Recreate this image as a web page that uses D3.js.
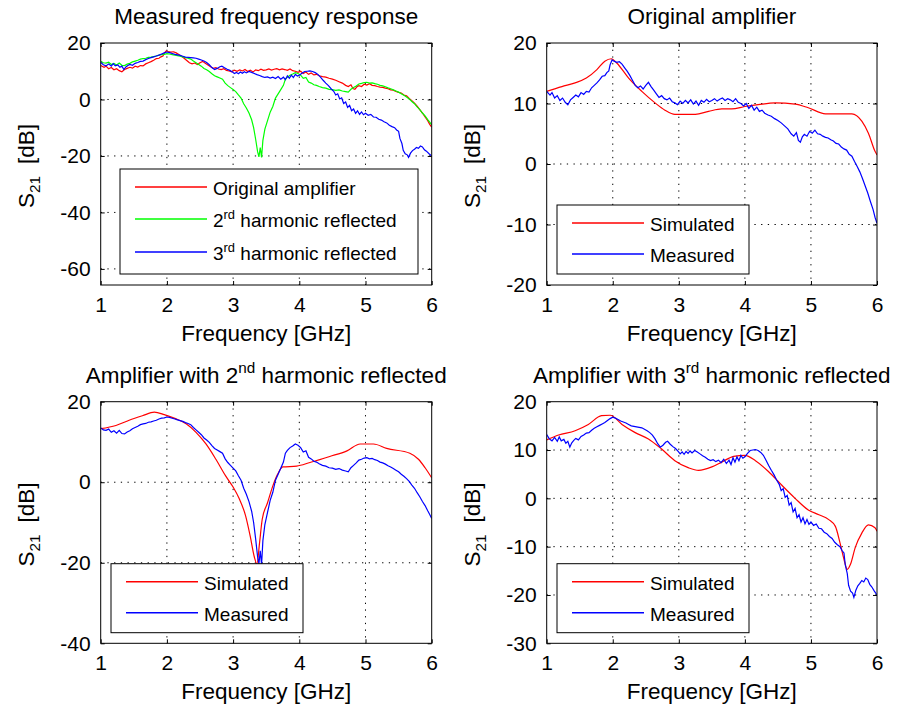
<!DOCTYPE html>
<html>
<head>
<meta charset="utf-8">
<script src="https://cdn.jsdelivr.net/npm/d3@7/dist/d3.min.js"></script>
<style>
  body { margin: 0; background: #fff; }
  svg { font-family: 'Liberation Sans', Arial, sans-serif; }
</style>
</head>
<body>
<div id="chart"></div>
<script>
const WIDTH = 899
const HEIGHT = 712

// x axis (GHz) shared by all four panels
const freqTicks = [1, 2, 3, 4, 5, 6]

// y ticks per panel
const ticksMeasured = [20, 0, -20, -40, -60]
const ticksOriginal = [20, 10, 0, -10, -20]
const ticksSecond = [20, 0, -20, -40]
const ticksThird = [20, 10, 0, -10, -20, -30]

// measured S21 [GHz, dB]
const measOriginal = [
  [1.00, 12.0], [1.05, 11.4], [1.08, 11.8], [1.12, 10.9], [1.16, 11.3], [1.20, 10.5], [1.24, 10.9],
  [1.28, 10.2], [1.32, 9.8], [1.36, 10.6], [1.40, 11.0], [1.44, 11.4], [1.48, 11.1], [1.52, 11.8],
  [1.56, 11.5], [1.60, 12.0], [1.64, 11.9], [1.68, 12.6], [1.72, 13.0], [1.76, 13.4], [1.80, 13.9],
  [1.84, 14.5], [1.88, 14.6], [1.91, 15.1], [1.94, 15.4], [1.96, 16.4], [1.99, 17.2], [2.02, 17.0],
  [2.06, 16.8], [2.10, 16.9], [2.14, 16.5], [2.18, 15.9], [2.22, 15.3], [2.26, 14.6], [2.30, 13.8],
  [2.34, 13.0], [2.38, 12.6], [2.42, 12.9], [2.46, 12.4], [2.50, 13.0], [2.54, 13.5], [2.58, 12.8],
  [2.62, 12.2], [2.66, 11.6], [2.70, 11.0], [2.74, 11.3], [2.78, 10.8], [2.82, 10.6], [2.86, 10.9],
  [2.90, 10.3], [2.94, 10.1], [2.98, 9.8], [3.02, 10.4], [3.06, 10.0], [3.10, 10.5], [3.14, 10.1],
  [3.18, 10.6], [3.22, 9.9], [3.26, 10.4], [3.30, 9.7], [3.34, 10.5], [3.38, 10.2], [3.42, 10.7],
  [3.46, 10.3], [3.50, 10.5], [3.54, 10.8], [3.58, 10.4], [3.62, 10.7], [3.66, 10.9], [3.70, 10.5],
  [3.74, 10.8], [3.78, 10.6], [3.82, 10.3], [3.86, 10.8], [3.90, 10.2], [3.94, 10.0], [3.98, 9.6],
  [4.02, 10.0], [4.06, 9.2], [4.10, 9.7], [4.14, 8.9], [4.18, 9.4], [4.22, 8.7], [4.26, 8.9],
  [4.30, 8.4], [4.35, 8.1], [4.40, 7.9], [4.45, 7.5], [4.50, 7.2], [4.55, 6.8], [4.60, 6.3],
  [4.65, 5.8], [4.70, 5.0], [4.74, 4.6], [4.78, 5.2], [4.81, 3.9], [4.84, 3.6], [4.87, 4.5],
  [4.90, 4.9], [4.94, 4.6], [4.98, 5.4], [5.02, 5.1], [5.06, 5.6], [5.10, 5.0], [5.14, 4.9],
  [5.18, 4.6], [5.22, 4.4], [5.26, 4.3], [5.30, 4.0], [5.34, 3.8], [5.38, 3.4], [5.42, 3.3],
  [5.46, 2.8], [5.50, 2.5], [5.54, 2.3], [5.58, 1.6], [5.62, 1.3], [5.66, 0.4], [5.70, -0.4],
  [5.74, -1.3], [5.78, -2.4], [5.82, -3.6], [5.86, -4.8], [5.90, -6.2], [5.94, -7.5], [5.97, -8.8],
  [6.00, -9.8],
]

const measSecond = [
  [1.00, 13.5], [1.04, 13.0], [1.08, 12.9], [1.12, 13.2], [1.16, 12.4], [1.20, 12.8], [1.24, 12.2],
  [1.28, 12.9], [1.32, 12.1], [1.36, 12.0], [1.40, 12.5], [1.44, 12.8], [1.48, 13.3], [1.52, 13.6],
  [1.56, 13.9], [1.60, 14.3], [1.64, 14.5], [1.68, 14.6], [1.72, 14.9], [1.76, 15.0], [1.80, 15.2],
  [1.84, 15.4], [1.88, 15.7], [1.92, 15.9], [1.96, 16.0], [2.00, 16.2], [2.04, 16.1], [2.08, 15.9],
  [2.12, 15.7], [2.16, 15.5], [2.20, 15.3], [2.24, 15.1], [2.28, 14.8], [2.32, 14.6], [2.36, 14.3],
  [2.40, 13.6], [2.44, 13.0], [2.48, 12.4], [2.52, 11.8], [2.56, 11.0], [2.60, 10.5], [2.64, 9.9],
  [2.68, 9.1], [2.72, 8.4], [2.76, 8.0], [2.80, 7.6], [2.84, 7.2], [2.88, 5.8], [2.92, 4.9],
  [2.96, 4.2], [3.00, 3.5], [3.04, 2.8], [3.08, 1.6], [3.12, 0.5], [3.16, -1.5], [3.20, -3.0],
  [3.24, -4.8], [3.28, -7.2], [3.31, -10.0], [3.34, -14.0], [3.37, -18.5], [3.39, -20.3], [3.41, -17.0],
  [3.43, -20.5], [3.45, -14.5], [3.48, -10.5], [3.52, -7.5], [3.56, -4.5], [3.60, -2.5], [3.64, 0.5],
  [3.68, 2.0], [3.72, 3.5], [3.76, 5.0], [3.79, 7.2], [3.82, 7.9], [3.86, 8.6], [3.90, 9.0],
  [3.94, 9.5], [3.98, 9.2], [4.02, 8.6], [4.06, 7.5], [4.10, 7.8], [4.14, 6.2], [4.18, 5.8],
  [4.22, 5.2], [4.26, 5.0], [4.30, 4.6], [4.35, 4.2], [4.40, 4.0], [4.45, 3.6], [4.50, 3.5],
  [4.55, 3.2], [4.60, 3.4], [4.65, 3.0], [4.70, 2.8], [4.74, 2.6], [4.78, 3.6], [4.82, 4.2],
  [4.86, 4.8], [4.90, 5.5], [4.94, 5.7], [4.98, 6.0], [5.02, 6.1], [5.06, 5.8], [5.10, 5.9],
  [5.14, 5.6], [5.18, 5.4], [5.22, 5.0], [5.26, 4.8], [5.30, 4.5], [5.34, 4.1], [5.38, 3.8],
  [5.42, 3.4], [5.46, 3.0], [5.50, 2.6], [5.54, 2.0], [5.58, 1.5], [5.62, 0.9], [5.66, 0.2],
  [5.70, -0.7], [5.74, -1.5], [5.78, -2.6], [5.82, -3.6], [5.86, -4.8], [5.90, -5.8], [5.94, -7.1],
  [5.97, -8.0], [6.00, -9.0],
]

const measThird = [
  [1.00, 13.2], [1.04, 12.3], [1.08, 11.9], [1.12, 12.6], [1.16, 11.8], [1.19, 12.7], [1.22, 11.9],
  [1.26, 12.2], [1.29, 11.4], [1.32, 11.8], [1.35, 10.6], [1.38, 11.5], [1.41, 12.0], [1.44, 12.4],
  [1.48, 12.1], [1.52, 12.8], [1.56, 13.1], [1.60, 13.5], [1.64, 13.6], [1.68, 14.1], [1.72, 14.5],
  [1.76, 14.8], [1.80, 15.1], [1.84, 15.4], [1.88, 15.7], [1.92, 16.1], [1.96, 16.5], [2.00, 16.8],
  [2.04, 16.6], [2.08, 16.3], [2.12, 16.0], [2.16, 15.8], [2.20, 15.6], [2.24, 15.3], [2.28, 15.0],
  [2.32, 14.9], [2.36, 14.8], [2.40, 14.7], [2.44, 14.6], [2.48, 14.3], [2.52, 14.0], [2.56, 13.6],
  [2.60, 13.1], [2.64, 12.3], [2.68, 11.3], [2.72, 10.6], [2.76, 11.0], [2.80, 11.6], [2.83, 11.8],
  [2.87, 11.2], [2.91, 10.7], [2.95, 10.3], [2.99, 9.7], [3.02, 9.2], [3.05, 9.6], [3.08, 9.1],
  [3.11, 9.7], [3.14, 9.3], [3.17, 9.8], [3.20, 9.4], [3.24, 9.9], [3.28, 9.6], [3.32, 9.2],
  [3.36, 8.8], [3.40, 8.5], [3.44, 8.1], [3.48, 7.8], [3.52, 8.0], [3.56, 7.6], [3.60, 7.9],
  [3.64, 7.4], [3.68, 8.1], [3.72, 7.2], [3.76, 7.9], [3.79, 7.0], [3.82, 8.4], [3.85, 7.5],
  [3.88, 8.6], [3.91, 7.8], [3.94, 8.9], [3.97, 8.3], [4.00, 8.6], [4.04, 9.3], [4.08, 9.9],
  [4.12, 10.0], [4.16, 10.1], [4.20, 9.9], [4.24, 9.5], [4.28, 8.9], [4.32, 7.9], [4.36, 6.8],
  [4.40, 5.8], [4.44, 4.9], [4.48, 3.8], [4.52, 2.9], [4.55, 1.6], [4.58, 2.0], [4.61, 0.2],
  [4.64, 0.6], [4.67, -1.4], [4.70, -0.9], [4.73, -2.8], [4.76, -2.1], [4.79, -4.0], [4.82, -3.4],
  [4.85, -4.9], [4.88, -4.0], [4.91, -5.3], [4.94, -4.4], [4.97, -5.4], [5.00, -4.9], [5.04, -5.6],
  [5.08, -5.3], [5.12, -6.2], [5.16, -6.3], [5.20, -7.0], [5.24, -7.3], [5.28, -7.9], [5.32, -8.3],
  [5.36, -9.1], [5.40, -9.6], [5.44, -10.0], [5.47, -10.8], [5.50, -11.3], [5.52, -13.8], [5.55, -15.6],
  [5.57, -18.0], [5.60, -19.2], [5.63, -19.6], [5.65, -20.5], [5.68, -19.0], [5.71, -18.1], [5.74, -17.6],
  [5.77, -17.0], [5.80, -17.3], [5.83, -16.5], [5.86, -16.8], [5.89, -17.8], [5.92, -18.3], [5.96, -19.2],
  [6.00, -20.0],
]

// simulated S21 [GHz, dB]
const simOriginal = [
  [1.00, 12.0], [1.23, 12.8], [1.43, 13.4], [1.60, 14.2], [1.76, 15.6], [1.88, 17.0], [1.98, 17.4],
  [2.06, 16.7], [2.24, 14.2], [2.44, 12.0], [2.64, 10.1], [2.79, 8.9], [2.94, 8.2], [3.25, 8.2],
  [3.45, 8.7], [3.65, 9.1], [3.80, 9.1], [4.00, 9.5], [4.20, 9.8], [4.46, 10.1], [4.76, 9.9],
  [4.96, 9.3], [5.22, 8.3], [5.62, 8.3], [5.77, 7.1], [5.87, 5.1], [5.97, 2.1], [6.00, 1.5],
]

const simSecond = [
  [1.00, 13.3], [1.23, 14.1], [1.43, 15.4], [1.63, 16.5], [1.81, 17.4], [1.96, 16.8], [2.13, 15.8],
  [2.29, 14.5], [2.44, 12.4], [2.59, 9.5], [2.74, 5.7], [2.89, 1.5], [3.00, -1.2], [3.09, -4.0],
  [3.19, -8.4], [3.26, -13.5], [3.32, -18.5], [3.36, -20.3], [3.40, -15.0], [3.44, -9.2], [3.52, -5.1],
  [3.59, -1.4], [3.67, 1.9], [3.75, 3.8], [3.96, 4.0], [4.16, 4.9], [4.46, 6.4], [4.72, 7.8],
  [4.92, 9.5], [5.12, 9.5], [5.32, 8.4], [5.67, 7.2], [5.80, 5.7], [5.90, 3.6], [6.00, 1.1],
]

const simThird = [
  [1.00, 12.1], [1.18, 13.1], [1.43, 14.0], [1.63, 15.3], [1.83, 17.1], [1.96, 17.2], [2.14, 15.3],
  [2.34, 13.6], [2.54, 12.3], [2.74, 10.2], [2.94, 7.8], [3.15, 6.3], [3.30, 5.8], [3.50, 6.5],
  [3.65, 7.5], [3.83, 8.7], [4.00, 8.9], [4.16, 7.8], [4.36, 5.5], [4.56, 2.7], [4.76, 0.0],
  [4.96, -2.4], [5.12, -3.4], [5.27, -4.4], [5.37, -5.8], [5.44, -9.2], [5.50, -12.6], [5.55, -14.7],
  [5.60, -13.6], [5.67, -10.2], [5.77, -7.2], [5.87, -5.5], [5.97, -6.1], [6.00, -6.8],
]

const RED = '#ff0000'
const GREEN = '#00ff00'
const BLUE = '#0000ff'

const panels = [
  {
    title: [['Measured frequency response']],
    left: 100.7, top: 43, w: 331, h: 242,
    yDomain: [-65.7, 20], yTicks: ticksMeasured,
    series: [
      { data: measOriginal, color: RED },
      { data: measSecond, color: GREEN },
      { data: measThird, color: BLUE },
    ],
    legend: {
      x: 19.3, y: 126, w: 298, h: 105, lineX: [34.3, 106.3], textX: 112.3, rowY: [144, 176, 209],
      items: [
        { label: [['Original amplifier']], color: RED },
        { label: [['2'], ['rd', 'sup'], [' harmonic reflected']], color: GREEN },
        { label: [['3'], ['rd', 'sup'], [' harmonic reflected']], color: BLUE },
      ],
    },
  },
  {
    title: [['Original amplifier']],
    left: 546.7, top: 43, w: 330.3, h: 242,
    yDomain: [-20, 20], yTicks: ticksOriginal,
    series: [
      { data: simOriginal, color: RED, smooth: true },
      { data: measOriginal, color: BLUE },
    ],
  },
  {
    title: [['Amplifier with 2'], ['nd', 'sup'], [' harmonic reflected']],
    left: 100.7, top: 401.7, w: 331, h: 241.6,
    yDomain: [-40, 20], yTicks: ticksSecond,
    series: [
      { data: simSecond, color: RED, smooth: true },
      { data: measSecond, color: BLUE },
    ],
  },
  {
    title: [['Amplifier with 3'], ['rd', 'sup'], [' harmonic reflected']],
    left: 546.7, top: 401.7, w: 330.3, h: 241.6,
    yDomain: [-30, 20], yTicks: ticksThird,
    series: [
      { data: simThird, color: RED, smooth: true },
      { data: measThird, color: BLUE },
    ],
  },
]

const simMeasLegend = {
  x: 10.3, y: 162, w: 192, h: 69, lineX: [25.3, 97.3], textX: 103.3, rowY: [180, 211],
  items: [
    { label: [['Simulated']], color: RED },
    { label: [['Measured']], color: BLUE },
  ],
}

const svg = d3
  .select('#chart')
  .append('svg')
  .attr('width', WIDTH)
  .attr('height', HEIGHT)

// writes [text, 'sup'|'sub'] pieces into a <text> as tspans
function richText(sel, parts, size) {
  let shift = 0
  parts.forEach(([t, kind]) => {
    const target = kind === 'sup' ? -0.42 * size : kind === 'sub' ? 0.3 * size : 0
    sel
      .append('tspan')
      .attr('dy', target - shift)
      .attr('font-size', kind ? size * 0.68 : size)
      .text(t)
    shift = target
  })
}

function styleAxis(g, size) {
  g.select('.domain').remove()
  g.selectAll('.tick line').attr('stroke', '#000')
  g.selectAll('.tick text')
    .attr('fill', '#000')
    .attr('font-size', size)
    .attr('font-family', "'Liberation Sans', Arial, sans-serif")
}

panels.forEach((p, idx) => {
  const x = d3.scaleLinear().domain([1, 6]).range([0, p.w])
  const y = d3.scaleLinear().domain(p.yDomain).range([p.h, 0])

  const g = svg.append('g').attr('transform', `translate(${p.left},${p.top})`)

  g.append('clipPath')
    .attr('id', `clip${idx}`)
    .append('rect')
    .attr('width', p.w)
    .attr('height', p.h)

  // dotted grid
  const grid = g.append('g').attr('stroke', '#000').attr('stroke-dasharray', '1.3,5.4')
  grid.selectAll('.gx')
    .data(freqTicks.filter(t => t > 1 && t < 6))
    .join('line')
    .attr('x1', d => x(d)).attr('x2', d => x(d))
    .attr('y1', 0).attr('y2', p.h)
  grid.selectAll('.gy')
    .data(p.yTicks.filter(t => t > p.yDomain[0] && t < p.yDomain[1]))
    .join('line')
    .attr('x1', 0).attr('x2', p.w)
    .attr('y1', d => y(d)).attr('y2', d => y(d))

  // curves
  const plot = g.append('g').attr('clip-path', `url(#clip${idx})`)
  p.series.forEach(s => {
    const line = d3.line()
      .x(d => x(d[0]))
      .y(d => y(d[1]))
      .curve(s.smooth ? d3.curveMonotoneX : d3.curveLinear)
    plot.append('path')
      .datum(s.data)
      .attr('d', line)
      .attr('fill', 'none')
      .attr('stroke', s.color)
      .attr('stroke-width', 1.2)
  })

  // axes with inward ticks
  g.append('g')
    .attr('transform', `translate(0,${p.h})`)
    .call(d3.axisBottom(x).tickValues(freqTicks).tickFormat(d => String(d)).tickSize(-4).tickPadding(12))
    .call(a => styleAxis(a, 21))
  g.append('g')
    .call(d3.axisTop(x).tickValues(freqTicks).tickFormat('').tickSize(-4))
    .call(a => styleAxis(a, 21))
  g.append('g')
    .call(d3.axisLeft(y).tickValues(p.yTicks).tickFormat(d => String(d)).tickSize(-4).tickPadding(10))
    .call(a => styleAxis(a, 21))
  g.append('g')
    .attr('transform', `translate(${p.w},0)`)
    .call(d3.axisRight(y).tickValues(p.yTicks).tickFormat('').tickSize(-4))
    .call(a => styleAxis(a, 21))

  g.append('rect')
    .attr('width', p.w)
    .attr('height', p.h)
    .attr('fill', 'none')
    .attr('stroke', '#000')

  // title
  g.append('text')
    .attr('x', p.w / 2)
    .attr('y', -19)
    .attr('text-anchor', 'middle')
    .attr('fill', '#000')
    .call(t => richText(t, p.title, 22.5))

  // x label
  g.append('text')
    .attr('x', p.w / 2)
    .attr('y', p.h + 56)
    .attr('text-anchor', 'middle')
    .attr('font-size', 22.5)
    .text('Frequency [GHz]')

  // y label
  g.append('text')
    .attr('transform', `translate(-67,${p.h / 2 + 2}) rotate(-90)`)
    .attr('text-anchor', 'middle')
    .call(t => {
      richText(t, [['S'], ['21', 'sub']], 22.5)
      t.append('tspan').attr('dy', -0.3 * 22.5).attr('dx', 12).attr('font-size', 22.5).text('[dB]')
    })

  // legend
  const lg = p.legend || simMeasLegend
  const leg = g.append('g')
  leg.append('rect')
    .attr('x', lg.x).attr('y', lg.y)
    .attr('width', lg.w).attr('height', lg.h)
    .attr('fill', '#fff')
    .attr('stroke', '#000')
  lg.items.forEach((item, i) => {
    leg.append('line')
      .attr('x1', lg.lineX[0]).attr('x2', lg.lineX[1])
      .attr('y1', lg.rowY[i]).attr('y2', lg.rowY[i])
      .attr('stroke', item.color)
      .attr('stroke-width', 1.5)
    leg.append('text')
      .attr('x', lg.textX)
      .attr('y', lg.rowY[i] + 8)
      .call(t => richText(t, item.label, 19))
  })
})
</script>
</body>
</html>
